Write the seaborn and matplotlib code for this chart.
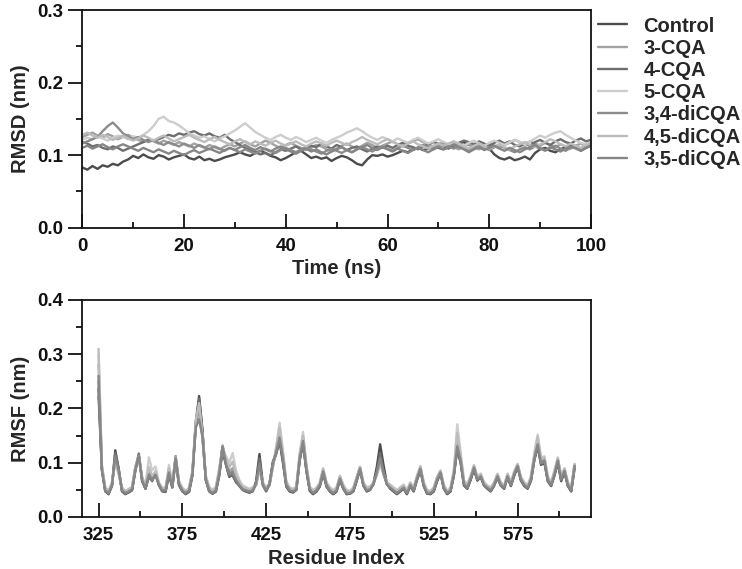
import numpy as np
import pandas as pd
import matplotlib
matplotlib.use("Agg")
import matplotlib.pyplot as plt
import seaborn as sns
from matplotlib.ticker import MultipleLocator, FixedLocator, FormatStrFormatter

# ---------------- data ----------------
labels = ["Control", "3-CQA", "4-CQA", "5-CQA", "3,4-diCQA", "4,5-diCQA", "3,5-diCQA"]
colors = ["#4c4c4c", "#a2a2a2", "#6e6e6e", "#cdcdcd", "#8c8c8c", "#bcbcbc", "#868686"]

time_ns = np.arange(0, 101, 1)  # 0..100 ns, 1 ns sampling

rmsd_control = [0.083,0.080,0.085,0.081,0.086,0.084,0.088,0.086,0.091,0.094,0.099,
 0.096,0.101,0.097,0.095,0.100,0.098,0.094,0.097,0.099,0.101,
 0.096,0.094,0.098,0.093,0.095,0.092,0.094,0.097,0.099,0.101,
 0.104,0.101,0.099,0.103,0.106,0.103,0.099,0.097,0.093,0.096,
 0.100,0.104,0.106,0.101,0.096,0.098,0.095,0.097,0.092,0.096,
 0.099,0.097,0.093,0.088,0.086,0.094,0.100,0.099,0.101,0.098,
 0.100,0.103,0.106,0.104,0.108,0.110,0.107,0.109,0.112,0.110,
 0.108,0.111,0.114,0.116,0.118,0.114,0.112,0.116,0.113,0.109,
 0.101,0.096,0.094,0.097,0.093,0.095,0.098,0.094,0.103,0.108,
 0.110,0.106,0.104,0.108,0.111,0.114,0.112,0.106,0.110,0.113]
rmsd_3cqa = [0.125,0.128,0.131,0.127,0.124,0.129,0.126,0.122,0.125,0.128,0.124,
 0.121,0.118,0.122,0.119,0.116,0.120,0.117,0.114,0.118,0.115,
 0.112,0.116,0.113,0.110,0.114,0.111,0.108,0.112,0.115,0.112,
 0.116,0.119,0.115,0.112,0.116,0.120,0.117,0.113,0.110,0.114,
 0.117,0.113,0.110,0.107,0.111,0.114,0.112,0.108,0.105,0.109,
 0.113,0.116,0.112,0.109,0.113,0.117,0.114,0.110,0.113,0.116,
 0.119,0.115,0.112,0.116,0.119,0.122,0.118,0.115,0.112,0.115,
 0.118,0.114,0.111,0.108,0.112,0.115,0.111,0.108,0.112,0.116,
 0.113,0.110,0.114,0.117,0.121,0.118,0.115,0.119,0.116,0.113,
 0.117,0.114,0.111,0.115,0.112,0.109,0.113,0.116,0.112,0.114]
rmsd_4cqa = [0.118,0.116,0.112,0.114,0.110,0.108,0.112,0.110,0.106,0.109,0.112,
 0.115,0.118,0.121,0.120,0.122,0.125,0.128,0.126,0.130,0.128,
 0.131,0.133,0.129,0.127,0.130,0.126,0.124,0.128,0.122,0.118,
 0.114,0.110,0.107,0.104,0.101,0.103,0.100,0.104,0.108,0.106,
 0.109,0.112,0.108,0.110,0.113,0.111,0.116,0.112,0.109,0.114,
 0.111,0.107,0.110,0.112,0.108,0.105,0.109,0.112,0.110,0.113,
 0.110,0.114,0.117,0.113,0.111,0.108,0.112,0.115,0.118,0.116,
 0.112,0.109,0.113,0.117,0.120,0.118,0.115,0.119,0.116,0.113,
 0.117,0.120,0.116,0.119,0.114,0.112,0.116,0.113,0.118,0.121,
 0.117,0.114,0.119,0.122,0.118,0.116,0.120,0.123,0.119,0.121]
rmsd_5cqa = [0.121,0.124,0.122,0.126,0.123,0.120,0.124,0.127,0.125,0.122,0.126,
 0.124,0.128,0.133,0.140,0.150,0.153,0.147,0.145,0.141,0.136,
 0.130,0.127,0.124,0.126,0.122,0.119,0.123,0.126,0.130,0.134,
 0.139,0.144,0.138,0.132,0.128,0.124,0.121,0.125,0.128,0.124,
 0.121,0.125,0.122,0.118,0.121,0.124,0.120,0.117,0.121,0.124,
 0.127,0.131,0.134,0.137,0.133,0.128,0.124,0.121,0.125,0.122,
 0.119,0.123,0.120,0.117,0.121,0.124,0.120,0.116,0.119,0.122,
 0.118,0.115,0.119,0.116,0.113,0.117,0.120,0.116,0.113,0.117,
 0.120,0.117,0.114,0.118,0.121,0.118,0.115,0.119,0.123,0.127,
 0.124,0.128,0.131,0.133,0.128,0.124,0.120,0.117,0.115,0.118]
rmsd_34di = [0.116,0.119,0.122,0.125,0.133,0.140,0.145,0.138,0.130,0.126,0.122,
 0.125,0.121,0.118,0.121,0.117,0.114,0.118,0.115,0.112,0.116,
 0.113,0.110,0.114,0.111,0.108,0.112,0.109,0.106,0.110,0.107,
 0.104,0.108,0.105,0.102,0.106,0.109,0.106,0.103,0.107,0.110,
 0.107,0.104,0.108,0.111,0.108,0.105,0.102,0.106,0.109,0.106,
 0.103,0.107,0.104,0.108,0.111,0.108,0.105,0.109,0.112,0.109,
 0.106,0.110,0.113,0.110,0.107,0.111,0.114,0.111,0.108,0.112,
 0.115,0.112,0.109,0.113,0.110,0.107,0.111,0.114,0.110,0.107,
 0.111,0.114,0.110,0.107,0.104,0.108,0.111,0.108,0.112,0.109,
 0.106,0.110,0.113,0.109,0.106,0.110,0.113,0.109,0.111,0.114]
rmsd_45di = [0.128,0.131,0.127,0.124,0.128,0.125,0.121,0.124,0.127,0.123,0.120,
 0.123,0.127,0.124,0.120,0.124,0.127,0.123,0.119,0.122,0.125,
 0.128,0.124,0.121,0.118,0.122,0.125,0.121,0.118,0.115,0.119,
 0.122,0.118,0.115,0.119,0.116,0.113,0.117,0.120,0.116,0.113,
 0.116,0.119,0.115,0.112,0.116,0.119,0.116,0.113,0.117,0.120,
 0.117,0.114,0.118,0.121,0.125,0.121,0.118,0.115,0.119,0.122,
 0.118,0.115,0.112,0.116,0.119,0.115,0.112,0.109,0.113,0.116,
 0.113,0.116,0.119,0.115,0.112,0.109,0.113,0.116,0.112,0.109,
 0.112,0.115,0.111,0.108,0.112,0.115,0.118,0.114,0.111,0.115,
 0.118,0.122,0.119,0.115,0.112,0.116,0.113,0.110,0.114,0.117]
rmsd_35di = [0.110,0.113,0.109,0.112,0.115,0.111,0.108,0.112,0.115,0.112,0.109,
 0.106,0.110,0.107,0.104,0.108,0.105,0.102,0.106,0.103,0.100,
 0.104,0.107,0.103,0.106,0.109,0.106,0.103,0.107,0.110,0.107,
 0.111,0.114,0.110,0.107,0.111,0.108,0.105,0.109,0.112,0.108,
 0.105,0.102,0.106,0.109,0.105,0.108,0.104,0.101,0.105,0.108,
 0.111,0.107,0.104,0.108,0.111,0.114,0.110,0.107,0.111,0.108,
 0.105,0.109,0.106,0.103,0.107,0.110,0.107,0.104,0.108,0.111,
 0.108,0.111,0.115,0.111,0.108,0.104,0.108,0.111,0.107,0.110,
 0.113,0.109,0.106,0.110,0.107,0.104,0.108,0.111,0.114,0.110,
 0.107,0.111,0.108,0.105,0.109,0.112,0.109,0.106,0.110,0.113]

residues = np.arange(325, 610, 2)  # residue index, every 2nd residue

# RMSF values in thousandths of nm
rmsf_control = [237,88,48,42,58,123,88,47,42,46, 50,86,112,66,52,76,68,82,62,48,
 47,80,55,106,60,48,42,47,78,175, 223,160,68,48,43,47,76,122,96,74,
 78,64,58,50,47,45,48,66,116,62, 48,62,102,118,140,100,56,47,45,50,
 105,135,85,48,42,47,56,80,56,47, 42,47,68,52,42,43,47,66,88,58,
 47,50,62,92,134,96,62,52,47,42, 47,52,42,57,47,68,86,57,43,42,
 47,66,80,52,42,47,76,125,100,58, 52,68,88,67,74,58,52,47,58,72,
 58,52,73,57,76,92,67,57,52,67, 105,130,96,100,66,57,76,100,66,82, 57,47,90]
rmsf_3cqa = [282,92,52,46,62,105,80,52,46,50, 54,92,112,72,56,84,72,76,60,52,
 52,88,60,112,64,52,47,52,82,165, 200,145,72,52,47,52,84,132,104,84,
 90,74,62,54,52,50,52,58,90,62, 52,58,92,125,160,115,62,52,50,54,
 112,148,92,54,47,52,62,88,62,52, 47,52,74,57,47,47,52,72,92,62,
 52,54,62,78,100,78,62,57,52,47, 52,57,47,62,52,74,92,62,47,47,
 52,72,85,57,47,52,82,140,110,64, 57,74,94,72,78,62,57,52,62,78,
 62,57,78,62,82,97,72,62,57,72, 112,142,104,108,72,62,82,108,72,88, 62,52,97]
rmsf_4cqa = [222,86,47,43,57,118,90,48,43,45, 49,88,117,68,52,74,66,80,58,47,
 46,78,54,104,58,47,43,46,76,172, 218,158,68,47,43,47,78,128,98,76,
 76,66,57,50,47,45,47,62,108,58, 47,60,98,116,142,104,58,48,46,50,
 104,138,86,50,43,47,57,82,57,48, 43,48,70,53,43,43,48,68,88,58,
 48,50,60,84,118,86,60,53,48,43, 48,53,43,58,48,70,88,58,43,43,
 48,68,82,53,43,48,78,128,102,60, 53,70,90,68,74,58,53,48,58,74,
 58,53,74,58,78,94,68,58,53,68, 106,132,98,102,68,58,78,102,68,84, 58,48,92]
rmsf_5cqa = [300,95,55,48,64,100,78,55,48,52, 56,94,110,74,58,110,86,93,64,54,
 54,96,62,108,66,54,48,54,86,168, 198,150,76,56,50,56,90,126,112,100,
 118,86,68,58,55,52,55,58,86,64, 55,60,90,130,174,122,66,55,52,56,
 118,157,96,56,50,54,64,90,64,55, 50,55,76,60,50,48,55,74,93,64,
 55,57,64,76,98,80,64,60,55,50, 55,60,50,64,55,76,94,64,50,48,
 55,74,86,60,48,55,88,171,120,68, 60,76,96,74,80,64,58,55,64,80,
 64,58,80,64,84,98,74,64,58,76, 118,152,110,112,76,64,86,110,76,90, 64,55,98]
rmsf_34di = [250,90,50,44,60,108,84,50,44,48, 52,90,114,70,54,80,70,78,60,50,
 50,84,58,112,62,50,45,50,80,168, 205,150,70,50,45,50,82,130,100,80,
 84,70,60,52,50,48,50,60,94,60, 50,60,96,120,148,110,60,50,48,52,
 110,142,90,52,45,50,60,85,60,50, 45,50,72,55,45,45,50,70,90,60,
 50,52,60,80,104,80,60,55,50,45, 50,55,45,60,50,72,90,60,45,45,
 50,70,83,55,45,50,80,133,105,62, 55,72,92,70,76,60,55,50,60,76,
 60,55,76,60,80,95,70,60,55,70, 110,135,100,105,70,60,80,105,70,86, 60,50,95]
rmsf_45di = [310,94,54,47,63,104,82,53,47,51, 55,93,113,73,57,92,76,84,62,53,
 53,90,61,110,65,53,47,53,84,178, 210,148,74,54,48,54,88,130,108,92,
 102,78,65,56,53,50,54,60,90,63, 53,62,94,128,165,118,64,53,50,55,
 115,150,94,55,48,53,62,88,63,53, 48,53,75,58,48,47,53,73,92,63,
 53,55,63,78,102,80,63,58,53,48, 53,58,48,63,53,75,93,63,48,47,
 53,73,85,58,47,53,85,155,115,66, 58,75,95,73,79,63,57,53,63,79,
 63,57,79,63,83,97,73,63,57,74, 115,148,106,110,74,63,84,108,74,89, 63,53,97]
rmsf_35di = [260,88,49,44,59,112,86,49,44,47, 51,88,114,68,53,78,68,78,60,49,
 49,82,56,108,61,49,44,49,79,165, 180,148,70,49,44,49,80,130,98,78,
 82,68,59,51,49,47,49,62,98,60, 49,61,98,120,146,108,60,49,47,51,
 108,140,88,51,44,49,59,84,59,49, 44,49,71,54,44,44,49,69,89,59,
 49,51,61,82,108,82,61,54,49,44, 49,54,44,59,49,71,89,59,44,44,
 49,69,82,54,44,49,79,130,104,61, 54,71,91,69,75,59,54,49,59,75,
 59,54,75,59,79,94,69,59,54,69, 108,134,99,104,69,59,79,104,69,85, 59,49,94]

rmsd_series = [rmsd_control, rmsd_3cqa, rmsd_4cqa, rmsd_5cqa, rmsd_34di, rmsd_45di, rmsd_35di]
rmsf_series = [rmsf_control, rmsf_3cqa, rmsf_4cqa, rmsf_5cqa, rmsf_34di, rmsf_45di, rmsf_35di]

df_rmsd = pd.concat([pd.DataFrame({"Time": time_ns, "RMSD": v, "System": lab})
                     for lab, v in zip(labels, rmsd_series)], ignore_index=True)
df_rmsf = pd.concat([pd.DataFrame({"Residue": residues, "RMSF": np.array(v) / 1000.0, "System": lab})
                     for lab, v in zip(labels, rmsf_series)], ignore_index=True)

# ---------------- style ----------------
sns.set_theme(style="ticks")
plt.rcParams['font.family'] = ['Liberation Sans', 'DejaVu Sans']
plt.rcParams['font.weight'] = 'bold'
plt.rcParams['axes.labelweight'] = 'bold'
plt.rcParams['axes.linewidth'] = 1.3
plt.rcParams['axes.edgecolor'] = '#111111'

TICK_FS = 13.5
LABEL_FS = 14.5
LEG_FS = 14.5

palette = dict(zip(labels, colors))

fig = plt.figure(figsize=(7.42, 5.69), dpi=100)
ax1 = fig.add_axes([0.1109, 0.5998, 0.6856, 0.3826])
ax2 = fig.add_axes([0.1109, 0.0914, 0.6856, 0.3814])

sns.lineplot(data=df_rmsd, x="Time", y="RMSD", hue="System", hue_order=labels,
             palette=palette, estimator=None, sort=False, linewidth=1.7, legend=False, ax=ax1)
sns.lineplot(data=df_rmsf, x="Residue", y="RMSF", hue="System", hue_order=labels,
             palette=palette, estimator=None, sort=False, linewidth=1.7, legend=False, ax=ax2)

def style_axis(ax, xlim, ylim, ymaj, ymin, xlabel, ylabel):
    ax.set_xlim(*xlim)
    ax.set_ylim(*ylim)
    ax.yaxis.set_major_locator(MultipleLocator(ymaj))
    ax.yaxis.set_minor_locator(MultipleLocator(ymin))
    ax.yaxis.set_major_formatter(FormatStrFormatter('%.1f'))
    ax.tick_params(axis='x', which='both', direction='in', top=False, bottom=True,
                   width=1.3, labelsize=TICK_FS, pad=7.5, colors='#111111')
    ax.tick_params(axis='y', which='both', direction='out', left=True, right=False,
                   width=1.3, labelsize=TICK_FS, pad=4, colors='#111111')
    ax.tick_params(which='major', length=10)
    ax.tick_params(which='minor', length=4.5)
    ax.set_xlabel(xlabel, fontsize=LABEL_FS, fontweight='bold', labelpad=3)
    ax.set_ylabel(ylabel, fontsize=LABEL_FS, fontweight='bold', labelpad=5)
    for s in ax.spines.values():
        s.set_visible(True)
        s.set_linewidth(1.3)
    for lab in ax.get_xticklabels() + ax.get_yticklabels():
        lab.set_fontweight('bold')

ax1.xaxis.set_major_locator(MultipleLocator(20))
ax1.xaxis.set_minor_locator(MultipleLocator(10))
style_axis(ax1, (0, 100), (0, 0.3), 0.1, 0.05, "Time (ns)", "RMSD (nm)")
ax2.xaxis.set_major_locator(FixedLocator([325, 375, 425, 475, 525, 575]))
ax2.xaxis.set_minor_locator(FixedLocator([350, 400, 450, 500, 550, 600]))
style_axis(ax2, (315.3, 618.8), (0, 0.4), 0.1, 0.05, "Residue Index", "RMSF (nm)")

handles = ax1.get_lines()[:len(labels)]
fig.legend(handles, labels, loc='upper left', bbox_to_anchor=(598 / 742, 1 - 16.5 / 569),
           frameon=False, handlelength=1.45, handletextpad=0.8, labelspacing=0.16,
           borderpad=0, borderaxespad=0, prop=dict(weight='bold', size=LEG_FS))

fig.savefig("out.png", dpi=100)
